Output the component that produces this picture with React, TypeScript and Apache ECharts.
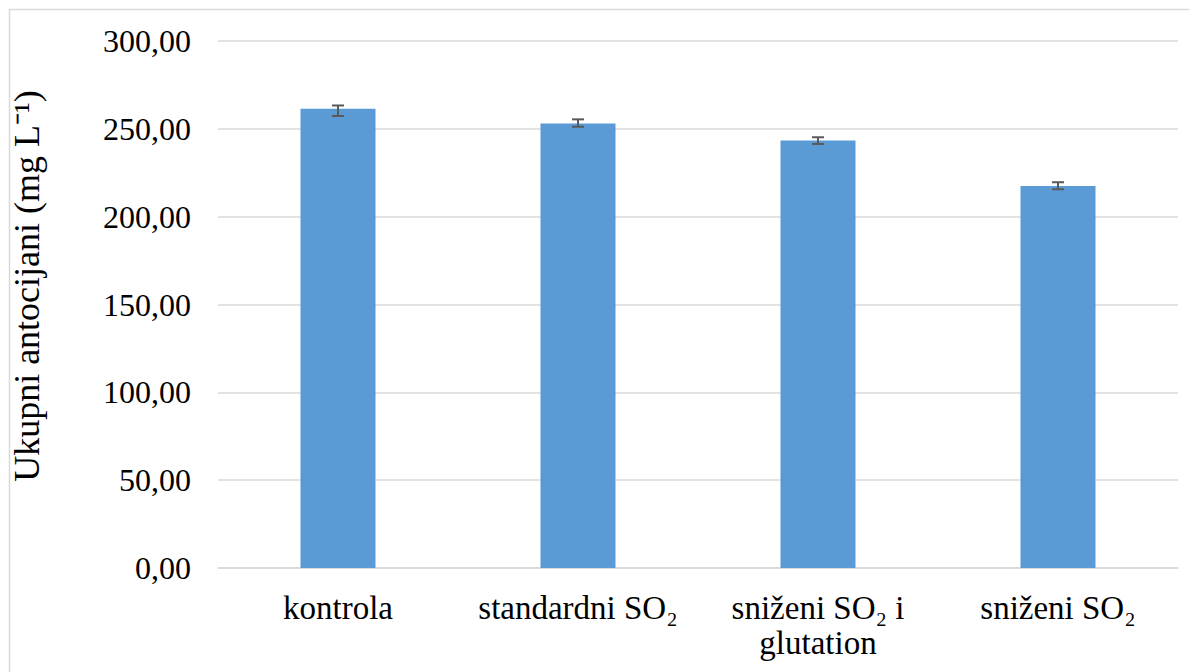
import React, { useEffect, useRef } from "react";
import * as echarts from "echarts";

const categories = ["kontrola", "standardni SO₂", "sniženi SO₂ i\nglutation", "sniženi SO₂"];
const values = [261.5, 253.1, 243.3, 217.5];
const errLow = [257.3, 251.2, 241.4, 215.6];
const errHigh = [263.3, 255.4, 245.2, 219.6];
const yTicks = { min: 0, max: 300, interval: 50 };
const yTitle = "Ukupni antocijani (mg L⁻¹)";

const FONT = "'Liberation Serif', 'Times New Roman', serif";

export default function App() {
  const ref = useRef<HTMLDivElement>(null);
  useEffect(() => {
    if (!ref.current) return;
    const chart = echarts.init(ref.current, undefined, { renderer: "svg" });
    chart.setOption({
      animation: false,
      textStyle: { fontFamily: FONT },
      graphic: [
        {
          type: "rect",
          shape: { x: 1.5, y: 1.5, width: 1300, height: 800 },
          style: { fill: "none", stroke: "#d9d9d9", lineWidth: 1.5 },
          silent: true,
        },
        {
          type: "text",
          x: 19,
          y: 278,
          rotation: Math.PI / 2,
          style: {
            text: yTitle,
            fill: "#000",
            font: `36px ${FONT}`,
            align: "center",
            verticalAlign: "middle",
          },
          silent: true,
        },
      ],
      grid: { left: 210, right: 19, top: 33, bottom: 104, outerBoundsMode: "none", containLabel: false },
      xAxis: {
        type: "category",
        data: categories,
        axisTick: { show: false },
        axisLine: { lineStyle: { color: "#d9d9d9", width: 1.5 } },
        axisLabel: {
          interval: 0,
          color: "#000",
          fontFamily: FONT,
          fontSize: 33,
          lineHeight: 35,
          margin: 22,
        },
      },
      yAxis: {
        type: "value",
        min: yTicks.min,
        max: yTicks.max,
        interval: yTicks.interval,
        axisLine: { show: false },
        axisTick: { show: false },
        splitLine: { lineStyle: { color: "#d9d9d9", width: 1.5 } },
        axisLabel: {
          color: "#000",
          fontFamily: FONT,
          fontSize: 32,
          margin: 27,
          formatter: (v: number) => v.toFixed(2).replace(".", ","),
        },
      },
      series: [
        {
          type: "bar",
          data: values,
          barWidth: 75,
          itemStyle: { color: "#5b9bd5" },
        },
        {
          type: "custom",
          data: categories.map((_, i) => [i, errLow[i], errHigh[i]]),
          z: 10,
          renderItem: (params: any, api: any) => {
            const x = api.value(0);
            const lo = api.coord([x, api.value(1)]);
            const hi = api.coord([x, api.value(2)]);
            const half = 6;
            const style = { stroke: "#595959", lineWidth: 2 };
            return {
              type: "group",
              children: [
                { type: "line", shape: { x1: lo[0], y1: lo[1], x2: hi[0], y2: hi[1] }, style },
                { type: "line", shape: { x1: lo[0] - half, y1: lo[1], x2: lo[0] + half, y2: lo[1] }, style },
                { type: "line", shape: { x1: hi[0] - half, y1: hi[1], x2: hi[0] + half, y2: hi[1] }, style },
              ],
            };
          },
        },
      ],
    });
    return () => chart.dispose();
  }, []);
  return <div ref={ref} style={{ width: 1189, height: 664 }} />;
}
